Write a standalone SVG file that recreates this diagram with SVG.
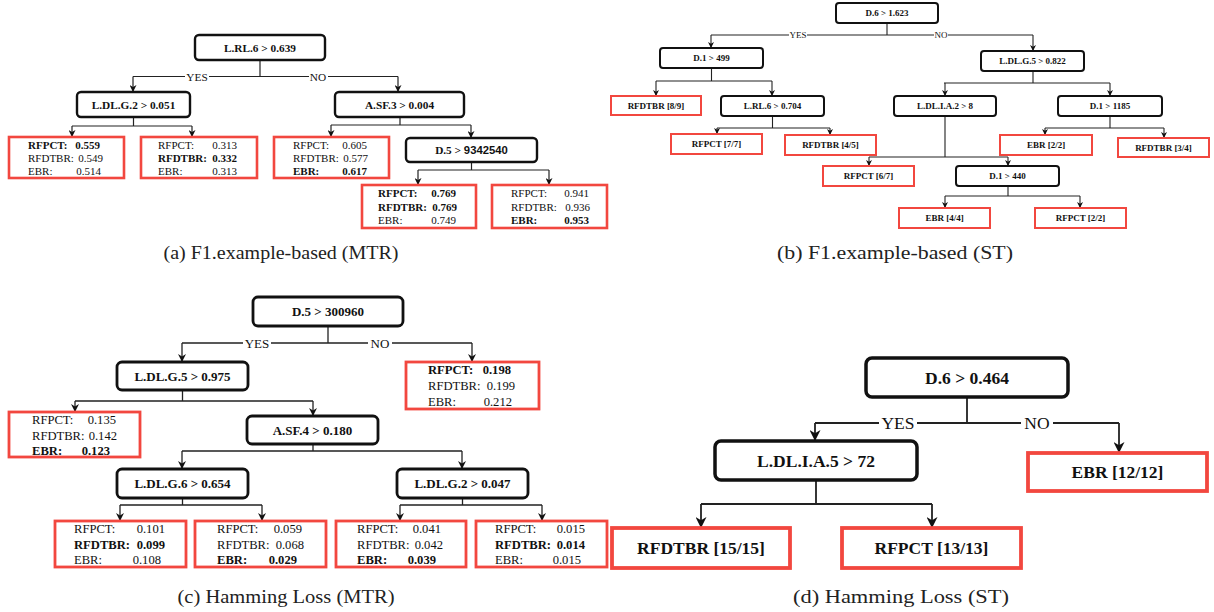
<svg xmlns="http://www.w3.org/2000/svg" width="1214" height="612" viewBox="0 0 1214 612">
<defs>
<style>
.t{font-family:"Liberation Serif","Times New Roman",serif;fill:#111}
.b{font-weight:bold}
.m{text-anchor:middle}
.e{text-anchor:end}
.nd{fill:#fff;stroke:#111}
.lf{fill:#fff;stroke:#f2473f}
.c{stroke:#222;fill:none}
.bg{fill:#fff}
.fa{font-size:11.3px}
.fl{font-size:11px}
.fb{font-size:9px}
.fc{font-size:13px}
.fk{font-size:12.6px}
.fd{font-size:17.5px}
.cap{font-size:19px;fill:#222}
.pa .nd{stroke-width:2.4}
.pa .lf{stroke-width:2.6}
.pb .nd{stroke-width:2}
.pb .lf{stroke-width:2}
.pc .nd{stroke-width:2.8}
.pc .lf{stroke-width:2.8}
.pd .nd{stroke-width:3.5}
.pd .lf{stroke-width:3.8}
</style>
<marker id="aS" viewBox="0 0 10 10" refX="10" refY="5" markerWidth="7" markerHeight="7" markerUnits="userSpaceOnUse" orient="auto"><path d="M0,0 L10,5 L0,10 L3,5 z" fill="#111"/></marker>
<marker id="aB" viewBox="0 0 10 10" refX="10" refY="5" markerWidth="6" markerHeight="6" markerUnits="userSpaceOnUse" orient="auto"><path d="M0,0 L10,5 L0,10 L3,5 z" fill="#111"/></marker>
<marker id="aM" viewBox="0 0 10 10" refX="10" refY="5" markerWidth="8" markerHeight="8" markerUnits="userSpaceOnUse" orient="auto"><path d="M0,0 L10,5 L0,10 L3,5 z" fill="#111"/></marker>
<marker id="aL" viewBox="0 0 10 10" refX="10" refY="5" markerWidth="11" markerHeight="11" markerUnits="userSpaceOnUse" orient="auto"><path d="M0,0 L10,5 L0,10 L3,5 z" fill="#111"/></marker>
</defs>
<rect width="1214" height="612" fill="#fff"/>

<!-- Panel (a) -->
<g class="pa">
<g id="connectors-a" class="c" stroke-width="1.2">
<path d="M260 60 V76.5 M133 76.5 H398"/>
<path d="M133 76.5 V92" marker-end="url(#aS)"/>
<path d="M398 76.5 V92" marker-end="url(#aS)"/>
<path d="M133.5 117 V126 M72 126 H192"/>
<path d="M72 126 V137" marker-end="url(#aS)"/>
<path d="M192 126 V137" marker-end="url(#aS)"/>
<path d="M400 117 V125 M331 125 H471"/>
<path d="M331 125 V137" marker-end="url(#aS)"/>
<path d="M471 125 V138" marker-end="url(#aS)"/>
<path d="M471.5 162 V170 M418 170 H549"/>
<path d="M418 170 V185" marker-end="url(#aS)"/>
<path d="M549 170 V185" marker-end="url(#aS)"/>
<rect class="bg" x="185" y="71" width="24" height="11" stroke="none"/>
<rect class="bg" x="309" y="71" width="19" height="11" stroke="none"/>
</g>
<text class="t fa m" x="197" y="80.5">YES</text>
<text class="t fa m" x="318" y="80.5">NO</text>
<g id="a-root"><rect class="nd" x="195" y="35" width="130" height="25" rx="4"/><text class="t fa b m" x="260" y="51.5">L.RL.6 &gt; 0.639</text></g>
<g id="a-n1"><rect class="nd" x="77" y="92" width="113" height="25" rx="4"/><text class="t fa b m" x="133.5" y="108.5">L.DL.G.2 &gt; 0.051</text></g>
<g id="a-n2"><rect class="nd" x="335" y="92" width="129" height="25" rx="4"/><text class="t fa b m" x="399.5" y="108.5">A.SF.3 &gt; 0.004</text></g>
<g id="a-n3"><rect class="nd" x="406" y="138" width="131" height="24" rx="4"/><text class="t fa b m" x="471.5" y="154">D.5 &gt; <tspan font-family="Liberation Sans, Arial, sans-serif">9342540</tspan></text></g>
<g id="a-l1"><rect class="lf" x="9" y="137" width="115" height="41"/>
<text class="t fl b" x="28" y="149">RFPCT:</text><text class="t fl b e" x="100" y="149">0.559</text>
<text class="t fl" x="28" y="162">RFDTBR:</text><text class="t fl e" x="103" y="162">0.549</text>
<text class="t fl" x="28" y="175">EBR:</text><text class="t fl e" x="101" y="175">0.514</text></g>
<g id="a-l2"><rect class="lf" x="141" y="137" width="116" height="41"/>
<text class="t fl" x="158" y="149">RFPCT:</text><text class="t fl e" x="237" y="149">0.313</text>
<text class="t fl b" x="158" y="162">RFDTBR:</text><text class="t fl b e" x="237" y="162">0.332</text>
<text class="t fl" x="158" y="175">EBR:</text><text class="t fl e" x="237" y="175">0.313</text></g>
<g id="a-l3"><rect class="lf" x="274" y="137" width="115" height="41"/>
<text class="t fl" x="293" y="149">RFPCT:</text><text class="t fl e" x="367" y="149">0.605</text>
<text class="t fl" x="293" y="162">RFDTBR:</text><text class="t fl e" x="368" y="162">0.577</text>
<text class="t fl b" x="293" y="175">EBR:</text><text class="t fl b e" x="367" y="175">0.617</text></g>
<g id="a-l4"><rect class="lf" x="362" y="185" width="114" height="43"/>
<text class="t fl b" x="378" y="197">RFPCT:</text><text class="t fl b e" x="456" y="197">0.769</text>
<text class="t fl b" x="378" y="211">RFDTBR:</text><text class="t fl b e" x="457" y="211">0.769</text>
<text class="t fl" x="378" y="224">EBR:</text><text class="t fl e" x="456" y="224">0.749</text></g>
<g id="a-l5"><rect class="lf" x="492" y="185" width="115" height="43"/>
<text class="t fl" x="511" y="197">RFPCT:</text><text class="t fl e" x="589" y="197">0.941</text>
<text class="t fl" x="511" y="211">RFDTBR:</text><text class="t fl e" x="590" y="211">0.936</text>
<text class="t fl b" x="511" y="224">EBR:</text><text class="t fl b e" x="589" y="224">0.953</text></g>
</g>

<!-- Panel (b) -->
<g class="pb">
<g id="connectors-b" class="c" stroke-width="1.1">
<path d="M887 23 V35 M711 35 H1033"/>
<path d="M711 35 V48" marker-end="url(#aB)"/>
<path d="M1033 35 V51" marker-end="url(#aB)"/>
<path d="M711.5 68 V81 M656 81 H772"/>
<path d="M656 81 V96" marker-end="url(#aB)"/>
<path d="M772 81 V96" marker-end="url(#aB)"/>
<path d="M772.5 116 V128 M717 128 H830"/>
<path d="M717 128 V134" marker-end="url(#aB)"/>
<path d="M830 128 V135" marker-end="url(#aB)"/>
<path d="M1033 71 V83 M944 83 H1110"/>
<path d="M945 83 V96" marker-end="url(#aB)"/>
<path d="M1110 83 V96" marker-end="url(#aB)"/>
<path d="M1110 116 V128 M1045 128 H1164"/>
<path d="M1045 128 V135" marker-end="url(#aB)"/>
<path d="M1164 128 V138" marker-end="url(#aB)"/>
<path d="M945 116 V157 M869 157 H1008"/>
<path d="M869 157 V166" marker-end="url(#aB)"/>
<path d="M1008 157 V166" marker-end="url(#aB)"/>
<path d="M1008 186 V196 M945 196 H1080"/>
<path d="M945 196 V208" marker-end="url(#aB)"/>
<path d="M1080 196 V208" marker-end="url(#aB)"/>
<rect class="bg" x="789" y="31" width="18" height="8" stroke="none"/>
<rect class="bg" x="934" y="31" width="14" height="8" stroke="none"/>
</g>
<text class="t fb m" x="798" y="38">YES</text>
<text class="t fb m" x="941" y="38">NO</text>
<g id="b-root"><rect class="nd" x="836" y="3" width="102" height="20" rx="3"/><text class="t fb b m" x="887" y="16">D.6 &gt; 1.623</text></g>
<g id="b-n1"><rect class="nd" x="660" y="48" width="103" height="20" rx="3"/><text class="t fb b m" x="711.5" y="61">D.1 &gt; 499</text></g>
<g id="b-n2"><rect class="nd" x="981" y="51" width="103" height="20" rx="3"/><text class="t fb b m" x="1032.5" y="64">L.DL.G.5 &gt; 0.822</text></g>
<g id="b-l1"><rect class="lf" x="611" y="96" width="90" height="19"/><text class="t fb b m" x="656" y="108.5">RFDTBR [8/9]</text></g>
<g id="b-n3"><rect class="nd" x="721" y="96" width="103" height="20" rx="3"/><text class="t fb b m" x="772.5" y="109">L.RL.6 &gt; 0.704</text></g>
<g id="b-n4"><rect class="nd" x="894" y="96" width="102" height="20" rx="3"/><text class="t fb b m" x="945" y="109">L.DL.I.A.2 &gt; 8</text></g>
<g id="b-n5"><rect class="nd" x="1058" y="96" width="104" height="20" rx="3"/><text class="t fb b m" x="1110" y="109">D.1 &gt; 1185</text></g>
<g id="b-l2"><rect class="lf" x="671" y="134" width="91" height="20"/><text class="t fb b m" x="716.5" y="147">RFPCT [7/7]</text></g>
<g id="b-l3"><rect class="lf" x="785" y="135" width="91" height="20"/><text class="t fb b m" x="830.5" y="148">RFDTBR [4/5]</text></g>
<g id="b-l4"><rect class="lf" x="1000" y="135" width="92" height="20"/><text class="t fb b m" x="1046" y="148">EBR [2/2]</text></g>
<g id="b-l5"><rect class="lf" x="1118" y="138" width="91" height="19"/><text class="t fb b m" x="1163.5" y="150.5">RFDTBR [3/4]</text></g>
<g id="b-l6"><rect class="lf" x="823" y="166" width="91" height="20"/><text class="t fb b m" x="868.5" y="179">RFPCT [6/7]</text></g>
<g id="b-n6"><rect class="nd" x="956" y="166" width="103" height="20" rx="3"/><text class="t fb b m" x="1007.5" y="179">D.1 &gt; 440</text></g>
<g id="b-l7"><rect class="lf" x="899" y="208" width="91" height="20"/><text class="t fb b m" x="944.5" y="221">EBR [4/4]</text></g>
<g id="b-l8"><rect class="lf" x="1035" y="208" width="91" height="20"/><text class="t fb b m" x="1080.5" y="221">RFPCT [2/2]</text></g>
</g>

<!-- Panel (c) -->
<g class="pc">
<g id="connectors-c" class="c" stroke-width="1.3">
<path d="M328 326 V343 M182 343 H472"/>
<path d="M182 343 V362" marker-end="url(#aM)"/>
<path d="M472 343 V362" marker-end="url(#aM)"/>
<path d="M182.5 390 V401 M75 401 H313"/>
<path d="M75 401 V412" marker-end="url(#aM)"/>
<path d="M313 401 V416" marker-end="url(#aM)"/>
<path d="M313 444 V451 M182 451 H462"/>
<path d="M182 451 V469" marker-end="url(#aM)"/>
<path d="M462 451 V469" marker-end="url(#aM)"/>
<path d="M182.5 498 V505 M120 505 H262"/>
<path d="M120 505 V521" marker-end="url(#aM)"/>
<path d="M262 505 V521" marker-end="url(#aM)"/>
<path d="M462.5 498 V505 M400 505 H542"/>
<path d="M400 505 V521" marker-end="url(#aM)"/>
<path d="M542 505 V521" marker-end="url(#aM)"/>
<rect class="bg" x="243" y="337" width="28" height="13" stroke="none"/>
<rect class="bg" x="368" y="337" width="24" height="13" stroke="none"/>
</g>
<text class="t fc m" x="257" y="347.5">YES</text>
<text class="t fc m" x="380" y="347.5">NO</text>
<g id="c-root"><rect class="nd" x="253" y="297" width="150" height="29" rx="5"/><text class="t fc b m" x="328" y="316">D.5 &gt; 300960</text></g>
<g id="c-n1"><rect class="nd" x="117" y="362" width="131" height="28" rx="5"/><text class="t fc b m" x="182.5" y="380.5">L.DL.G.5 &gt; 0.975</text></g>
<g id="c-l0"><rect class="lf" x="406" y="362" width="133" height="47"/>
<text class="t fk b" x="428" y="374">RFPCT:</text><text class="t fk b e" x="511" y="374">0.198</text>
<text class="t fk" x="428" y="390">RFDTBR:</text><text class="t fk e" x="515" y="390">0.199</text>
<text class="t fk" x="428" y="406">EBR:</text><text class="t fk e" x="512" y="406">0.212</text></g>
<g id="c-l1"><rect class="lf" x="9" y="412" width="131" height="45"/>
<text class="t fk" x="32" y="424">RFPCT:</text><text class="t fk e" x="116" y="424">0.135</text>
<text class="t fk" x="32" y="440">RFDTBR:</text><text class="t fk e" x="117" y="440">0.142</text>
<text class="t fk b" x="32" y="455">EBR:</text><text class="t fk b e" x="110" y="455">0.123</text></g>
<g id="c-n2"><rect class="nd" x="247" y="416" width="131" height="28" rx="5"/><text class="t fc b m" x="312.5" y="434.5">A.SF.4 &gt; 0.180</text></g>
<g id="c-n3"><rect class="nd" x="117" y="469" width="131" height="29" rx="5"/><text class="t fc b m" x="182.5" y="488">L.DL.G.6 &gt; 0.654</text></g>
<g id="c-n4"><rect class="nd" x="397" y="469" width="131" height="29" rx="5"/><text class="t fc b m" x="462.5" y="488">L.DL.G.2 &gt; 0.047</text></g>
<g id="c-l2"><rect class="lf" x="55" y="521" width="131" height="46"/>
<text class="t fk" x="74" y="533">RFPCT:</text><text class="t fk e" x="165" y="533">0.101</text>
<text class="t fk b" x="74" y="549">RFDTBR:</text><text class="t fk b e" x="165" y="549">0.099</text>
<text class="t fk" x="74" y="564">EBR:</text><text class="t fk e" x="161" y="564">0.108</text></g>
<g id="c-l3"><rect class="lf" x="195" y="521" width="131" height="46"/>
<text class="t fk" x="217" y="533">RFPCT:</text><text class="t fk e" x="302" y="533">0.059</text>
<text class="t fk" x="217" y="549">RFDTBR:</text><text class="t fk e" x="304" y="549">0.068</text>
<text class="t fk b" x="217" y="564">EBR:</text><text class="t fk b e" x="297" y="564">0.029</text></g>
<g id="c-l4"><rect class="lf" x="336" y="521" width="130" height="46"/>
<text class="t fk" x="357" y="533">RFPCT:</text><text class="t fk e" x="441" y="533">0.041</text>
<text class="t fk" x="357" y="549">RFDTBR:</text><text class="t fk e" x="443" y="549">0.042</text>
<text class="t fk b" x="357" y="564">EBR:</text><text class="t fk b e" x="436" y="564">0.039</text></g>
<g id="c-l5"><rect class="lf" x="476" y="521" width="131" height="46"/>
<text class="t fk" x="495" y="533">RFPCT:</text><text class="t fk e" x="585" y="533">0.015</text>
<text class="t fk b" x="495" y="549">RFDTBR:</text><text class="t fk b e" x="585" y="549">0.014</text>
<text class="t fk" x="495" y="564">EBR:</text><text class="t fk e" x="581" y="564">0.015</text></g>
</g>

<!-- Panel (d) -->
<g class="pd">
<g id="connectors-d" class="c" stroke-width="1.8">
<path d="M967 397 V423 M815 423 H1119"/>
<path d="M815 423 V441" marker-end="url(#aL)"/>
<path d="M1119 423 V453" marker-end="url(#aL)"/>
<path d="M816 480 V504 M701 504 H932"/>
<path d="M701 504 V528" marker-end="url(#aL)"/>
<path d="M932 504 V528" marker-end="url(#aL)"/>
<rect class="bg" x="879" y="414" width="38" height="18" stroke="none"/>
<rect class="bg" x="1021" y="414" width="32" height="18" stroke="none"/>
</g>
<text class="t fd m" x="898" y="429">YES</text>
<text class="t fd m" x="1037" y="429">NO</text>
<g id="d-root"><rect class="nd" x="866" y="358" width="202" height="39" rx="6"/><text class="t fd b m" x="967" y="383.5">D.6 &gt; 0.464</text></g>
<g id="d-n1"><rect class="nd" x="715" y="441" width="202" height="39" rx="6"/><text class="t fd b m" x="816" y="466.5">L.DL.I.A.5 &gt; 72</text></g>
<g id="d-l1"><rect class="lf" x="1028" y="453" width="179" height="38"/><text class="t fd b m" x="1117.5" y="478">EBR [12/12]</text></g>
<g id="d-l2"><rect class="lf" x="612" y="528" width="178" height="40"/><text class="t fd b m" x="701" y="554">RFDTBR [15/15]</text></g>
<g id="d-l3"><rect class="lf" x="842" y="528" width="179" height="40"/><text class="t fd b m" x="931.5" y="554">RFPCT [13/13]</text></g>
</g>

<!-- Captions -->
<text class="t cap m" x="281" y="259" textLength="235" lengthAdjust="spacingAndGlyphs">(a) F1.example-based (MTR)</text>
<text class="t cap m" x="895" y="259" textLength="236" lengthAdjust="spacingAndGlyphs">(b) F1.example-based (ST)</text>
<text class="t cap m" x="286" y="603" textLength="217" lengthAdjust="spacingAndGlyphs">(c) Hamming Loss (MTR)</text>
<text class="t cap m" x="901" y="603" textLength="216" lengthAdjust="spacingAndGlyphs">(d) Hamming Loss (ST)</text>
</svg>
